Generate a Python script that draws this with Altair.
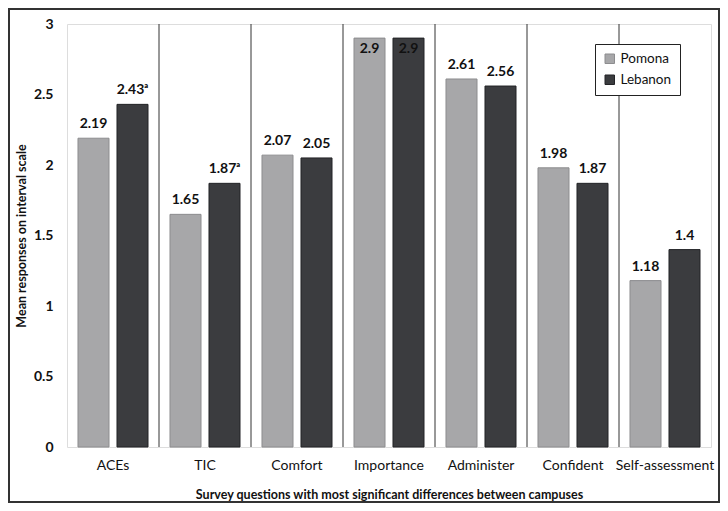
import altair as alt
import pandas as pd

categories = ["ACEs", "TIC", "Comfort", "Importance", "Administer", "Confident", "Self-assessment"]
campuses = ["Pomona", "Lebanon"]
pomona = [2.19, 1.65, 2.07, 2.9, 2.61, 1.98, 1.18]
lebanon = [2.43, 1.87, 2.05, 2.9, 2.56, 1.87, 1.4]
pomona_note = ["", "", "", "", "", "", ""]
lebanon_note = ["ᵃ", "ᵃ", "", "", "", "", ""]
y_ticks = [0, 0.5, 1, 1.5, 2, 2.5, 3]

rows = []
for i, c in enumerate(categories):
    rows.append({"cat": c, "campus": "Pomona", "value": pomona[i], "note": pomona_note[i]})
    rows.append({"cat": c, "campus": "Lebanon", "value": lebanon[i], "note": lebanon_note[i]})
df = pd.DataFrame(rows)

FONT = "Lato"
W, H = 644, 423

xscale = alt.Scale(domain=categories, paddingInner=0, paddingOuter=0)
xoff = alt.XOffset("campus:N", sort=campuses,
                   scale=alt.Scale(domain=campuses, paddingInner=0.205, paddingOuter=0.282))
yscale = alt.Scale(domain=[0, 3], nice=False)

base = alt.Chart(df)

bars = base.mark_bar(strokeWidth=1).encode(
    x=alt.X("cat:N", scale=xscale, sort=categories,
            axis=alt.Axis(title="Survey questions with most significant differences between campuses",
                          labelAngle=0, labelAlign="center", labelBaseline="top",
                          ticks=False, domain=False, grid=False,
                          labelFontSize=14, labelPadding=11, labelColor="#111",
                          titleFontSize=12.5, titleFontWeight="bold", titlePadding=16, titleColor="#111")),
    xOffset=xoff,
    y=alt.Y("value:Q", scale=yscale,
            axis=alt.Axis(title="Mean responses on interval scale", values=y_ticks, format="~g",
                          ticks=False, domain=False, gridColor="#d9d9d9", gridWidth=1,
                          labelFontSize=14, labelFontWeight="bold", labelPadding=14, labelColor="#111",
                          titleFontSize=12.5, titleFontWeight="bold", titlePadding=5, titleColor="#111")),
    color=alt.Color("campus:N", sort=campuses,
                    scale=alt.Scale(domain=campuses, range=["#a7a7a9", "#3b3c3f"]),
                    legend=alt.Legend(title=None, orient="none", legendX=528, legendY=20,
                                      symbolType="square", symbolSize=90, symbolStrokeColor="#777",
                                      symbolStrokeWidth=1, labelFontSize=13.5, labelColor="#111",
                                      strokeColor="#222", padding=8, rowPadding=6, fillColor="white")),
    stroke=alt.Stroke("campus:N", sort=campuses,
                      scale=alt.Scale(domain=campuses, range=["#8c8c8e", "#222326"]), legend=None),
)

labels_above = base.transform_filter("datum.value < 2.8").transform_calculate(
    label="'' + datum.value + datum.note"
).mark_text(baseline="bottom", dy=-7, fontSize=14, fontWeight="bold", color="#111", font=FONT).encode(
    x=alt.X("cat:N", scale=xscale, sort=categories), xOffset=xoff,
    y=alt.Y("value:Q", scale=yscale), text="label:N")

labels_inside = base.transform_filter("datum.value >= 2.8").transform_calculate(
    label="'' + datum.value + datum.note"
).mark_text(baseline="top", dy=4, fontSize=14, fontWeight="bold", color="#111", font=FONT).encode(
    x=alt.X("cat:N", scale=xscale, sort=categories), xOffset=xoff,
    y=alt.Y("value:Q", scale=yscale), text="label:N")

seps = alt.Chart(pd.DataFrame({"cat": categories[1:]})).mark_rule(color="#333", strokeWidth=1).encode(
    x=alt.X("cat:N", scale=xscale, sort=categories, bandPosition=0),
    y=alt.datum(0), y2=alt.datum(3))

frame = alt.Chart(pd.DataFrame({"k": [0]})).mark_rect(fill=None, stroke="#333", strokeWidth=2).encode(
    x=alt.value(-58), x2=alt.value(W + 8), y=alt.value(-15), y2=alt.value(H + 55))

chart = alt.layer(seps, bars, labels_above, labels_inside, frame).properties(
    width=W, height=H, autosize=alt.AutoSizeParams(type="none"),
    padding={"left": 59, "top": 16, "right": 9, "bottom": 56}
).configure_view(stroke="#333", strokeWidth=1.2).configure(
    font=FONT
)

chart.save("out.html", embed_options={"renderer": "svg", "actions": False})
